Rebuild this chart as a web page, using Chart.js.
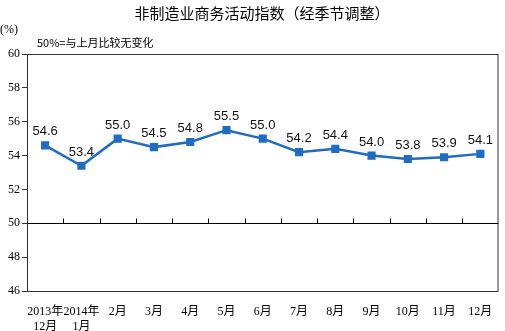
<!DOCTYPE html>
<html>
<head>
<meta charset="utf-8">
<script src="https://cdn.jsdelivr.net/npm/chart.js@4.4.0/dist/chart.umd.min.js"></script>
<style>
  html, body { margin: 0; padding: 0; background: #fff; }
  #wrap { width: 505px; height: 331px; }
</style>
</head>
<body>
<div id="wrap"><canvas id="pmiChart" width="505" height="331"></canvas></div>
<script>
// months on the x axis (first two carry the year)
const months = [
  ["2013年", "12月"], ["2014年", "1月"], "2月", "3月", "4月", "5月",
  "6月", "7月", "8月", "9月", "10月", "11月", "12月"
];
// seasonally adjusted index values
const pmiValues = [54.6, 53.4, 55.0, 54.5, 54.8, 55.5, 55.0, 54.2, 54.4, 54.0, 53.8, 53.9, 54.1];
const yTicks = [46, 48, 50, 52, 54, 56, 58, 60];
const baseline = 50;

const serif = "'Liberation Serif', 'Noto Sans CJK SC', serif";
const cjk = "'Noto Sans CJK SC', sans-serif";

// box, the 50% line with its ticks, the value labels and header text
const decorations = {
  id: "decorations",
  afterDatasetsDraw(chart) {
    const ctx = chart.ctx;
    const area = chart.chartArea;
    const x = chart.scales.x;
    const y = chart.scales.y;
    ctx.save();

    ctx.strokeStyle = "#333";
    ctx.lineWidth = 1;
    ctx.strokeRect(area.left + 0.5, area.top + 0.5, area.right - area.left - 1, area.bottom - area.top);

    const by = Math.round(y.getPixelForValue(baseline)) + 0.5;
    ctx.strokeStyle = "#000";
    ctx.beginPath();
    ctx.moveTo(area.left, by);
    ctx.lineTo(area.right, by);
    for (let i = 1; i < months.length; i++) {
      const tx = Math.round((x.getPixelForValue(i - 1) + x.getPixelForValue(i)) / 2) + 0.5;
      ctx.moveTo(tx, by);
      ctx.lineTo(tx, by - 5);
    }
    ctx.stroke();

    ctx.fillStyle = "#111";
    ctx.font = "13px 'Liberation Sans', Arial, sans-serif";
    ctx.textAlign = "center";
    ctx.textBaseline = "alphabetic";
    const meta = chart.getDatasetMeta(0);
    meta.data.forEach((pt, i) => {
      ctx.fillText(pmiValues[i].toFixed(1), pt.x, pt.y - 10);
    });

    ctx.fillStyle = "#000";
    ctx.font = "15px " + cjk;
    ctx.fillText("非制造业商务活动指数（经季节调整）", 262, 19);
    ctx.textAlign = "left";
    ctx.font = "12px " + serif;
    ctx.fillText("(%)", 0, 33);
    ctx.font = "11px " + cjk;
    ctx.fillText("50%=与上月比较无变化", 37, 47);
    ctx.restore();
  }
};

new Chart(document.getElementById("pmiChart"), {
  type: "line",
  data: {
    labels: months,
    datasets: [{
      data: pmiValues,
      borderColor: "#1f6cc1",
      backgroundColor: "#1f6cc1",
      borderWidth: 2.5,
      pointStyle: "rect",
      pointRadius: 4,
      pointHoverRadius: 4,
      tension: 0
    }]
  },
  options: {
    responsive: false,
    animation: false,
    layout: { padding: { top: 54, right: 3, left: 0, bottom: 0 } },
    plugins: {
      legend: { display: false },
      title: { display: false },
      tooltip: { enabled: false }
    },
    scales: {
      x: {
        offset: true,
        grid: { display: false },
        border: { display: false },
        ticks: {
          color: "#000",
          font: { size: 12, family: serif },
          maxRotation: 0,
          autoSkip: false,
          padding: 6
        },
        afterFit(scale) { scale.height = 40; }
      },
      y: {
        min: 46,
        max: 60,
        afterBuildTicks(scale) { scale.ticks = yTicks.map(v => ({ value: v })); },
        grid: { drawOnChartArea: false, tickLength: 5, color: "#333" },
        border: { display: false },
        ticks: {
          color: "#000",
          font: { size: 12, family: serif },
          padding: 2
        },
        afterFit(scale) { scale.width = 27; }
      }
    }
  },
  plugins: [decorations]
});
</script>
</body>
</html>
